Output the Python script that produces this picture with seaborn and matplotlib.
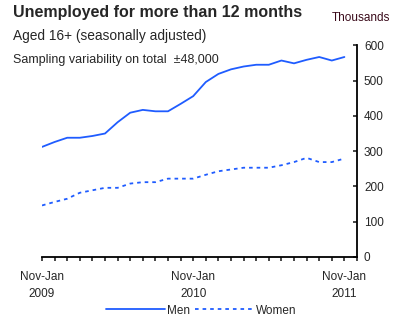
import numpy as np
import pandas as pd
import matplotlib
matplotlib.use("Agg")
import matplotlib.pyplot as plt
import seaborn as sns

periods = ["Nov-Jan 2009", "Dec-Feb", "Jan-Mar", "Feb-Apr", "Mar-May", "Apr-Jun", "May-Jul",
           "Jun-Aug", "Jul-Sep", "Aug-Oct", "Sep-Nov", "Oct-Dec", "Nov-Jan 2010", "Dec-Feb",
           "Jan-Mar", "Feb-Apr", "Mar-May", "Apr-Jun", "May-Jul", "Jun-Aug", "Jul-Sep",
           "Aug-Oct", "Sep-Nov", "Oct-Dec", "Nov-Jan 2011"]
men = [312, 326, 338, 338, 343, 350, 382, 409, 417, 413, 413, 434, 456, 496, 519, 532,
       540, 545, 545, 557, 549, 559, 567, 557, 567]
women = [146, 156, 165, 182, 189, 196, 196, 208, 212, 212, 222, 222, 222, 233, 243, 248,
         253, 253, 253, 260, 269, 281, 269, 269, 279]
tick_labels = ["Nov-Jan\n2009", "Nov-Jan\n2010", "Nov-Jan\n2011"]
tick_pos = [0, 12, 24]
series = ["Men", "Women"]

sns.set_style("white")
plt.rcParams['font.family'] = ['Liberation Sans', 'DejaVu Sans']

idx = np.arange(len(periods))
df = pd.DataFrame({
    "idx": np.concatenate([idx, idx]),
    "value": men + women,
    "series": [series[0]] * len(men) + [series[1]] * len(women),
})

blue = "#1f5cff"
fig = plt.figure(figsize=(4.0, 3.24), dpi=100)
ax = fig.add_axes([0.105, 0.207, 0.7875, 0.653])
sns.lineplot(data=df, x="idx", y="value", hue="series", style="series",
             palette={"Men": blue, "Women": blue},
             dashes={"Men": "", "Women": (2, 2.2)}, linewidth=1.3, ax=ax, legend=True)

ax.set_xlim(0, 25)
ax.set_ylim(0, 600)
ax.set_xlabel("")
ax.set_ylabel("")
for s in ["left", "top"]:
    ax.spines[s].set_visible(False)
for s in ["right", "bottom"]:
    ax.spines[s].set_visible(True)
    ax.spines[s].set_color("black")
    ax.spines[s].set_linewidth(1.3)

ax.yaxis.tick_right()
ax.set_yticks(np.arange(0, 601, 100))
ax.tick_params(axis="y", direction="in", length=3, width=1.2, pad=5, labelsize=8.5,
               right=True, left=False)
ax.set_xticks(np.arange(0, 26), minor=True)
ax.set_xticks(tick_pos)
ax.set_xticklabels(tick_labels, linespacing=1.6)
ax.tick_params(axis="x", which="both", direction="out", length=3, width=1.2, labelsize=8.5,
               bottom=True, pad=7)

handles, labels = ax.get_legend_handles_labels()
ax.legend(handles, labels, loc="upper center", bbox_to_anchor=(0.505, -0.175), ncol=2,
          frameon=False, fontsize=8.5, handlelength=5.0, handletextpad=0.2, columnspacing=0.4)

fig.text(0.033, 0.962, "Unemployed for more than 12 months", fontsize=11.5,
         fontweight="bold", va="center", ha="left")
fig.text(0.033, 0.89, "Aged 16+ (seasonally adjusted)", fontsize=9.9, va="center", ha="left")
fig.text(0.033, 0.815, "Sampling variability on total  \u00b148,000", fontsize=9.0,
         va="center", ha="left")
fig.text(0.975, 0.944, "Thousands", fontsize=8.5, va="center", ha="right", color="#3a0a1a")

fig.savefig("out.png", dpi=100)
